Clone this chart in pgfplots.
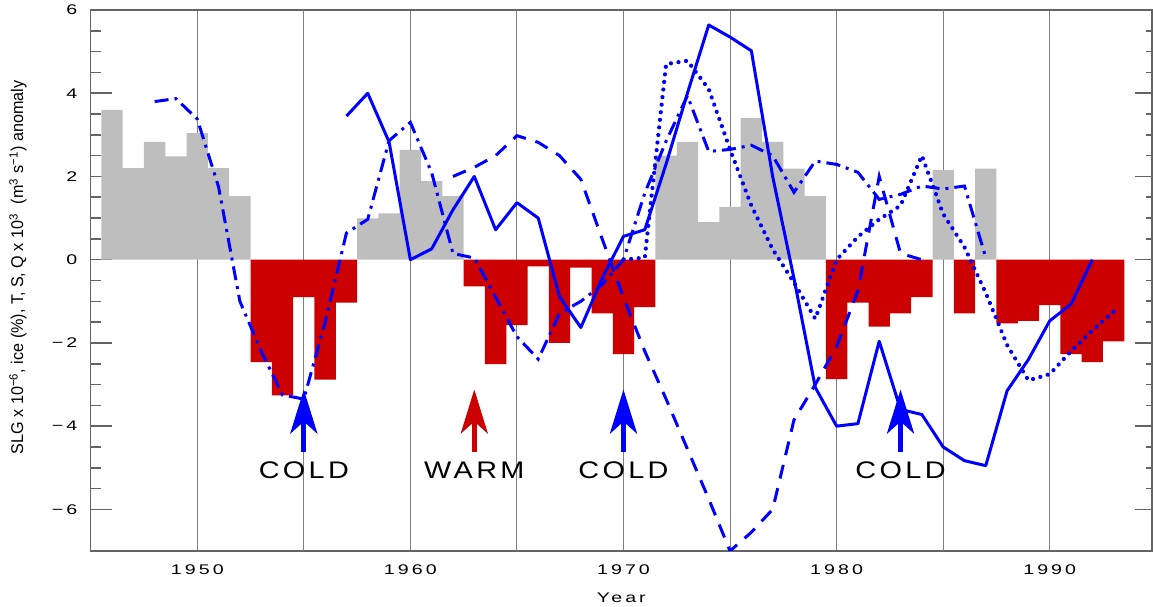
\documentclass[border=0pt]{standalone}
\usepackage{fontspec}
\setmainfont{Liberation Sans}
\newfontfamily\tickfont{Liberation Sans}[FakeStretch=1.4, LetterSpace=22]
\newfontfamily\labfont{Liberation Sans}[FakeStretch=0.95]
\newfontfamily\wfont{Liberation Sans}[FakeStretch=1.2, LetterSpace=14]
\usepackage{pgfplots}
\pgfplotsset{compat=1.18}
\usetikzlibrary{calc,arrows.meta}
\definecolor{barred}{RGB}{204,0,0}
\definecolor{bargray}{RGB}{190,190,190}
\definecolor{lblue}{RGB}{0,0,255}
\definecolor{framec}{RGB}{100,100,100}
\definecolor{gridc}{RGB}{128,128,128}
\pgfplotsset{common/.style={width=530.65pt, height=270.5pt, scale only axis,
  xmin=1945, xmax=1994.8, ymin=-7, ymax=6,
  axis line style={framec, line width=0.8pt},
  tick style={framec, line width=0.8pt}}}

\pgfplotstableread{
year val
1946 3.60
1947 2.20
1948 2.83
1949 2.48
1950 3.04
1951 2.20
1952 1.53
1958 0.99
1959 1.11
1960 2.64
1961 1.89
1962 1.53
1972 2.50
1973 2.83
1974 0.90
1975 1.27
1976 3.40
1977 2.83
1978 2.19
1979 1.53
1985 2.15
1987 2.19
}\posbars

\pgfplotstableread{
year val
1953 -2.46
1954 -3.26
1955 -0.90
1956 -2.88
1957 -1.03
1963 -0.64
1964 -2.51
1965 -1.57
1966 -0.16
1967 -2.00
1968 -0.19
1969 -1.29
1970 -2.27
1971 -1.14
1980 -2.87
1981 -1.03
1982 -1.61
1983 -1.29
1984 -0.90
1986 -1.29
1988 -1.53
1989 -1.47
1990 -1.09
1991 -2.27
1992 -2.46
1993 -1.96
}\negbars

\begin{document}
\begin{tikzpicture}
\begin{axis}[common, name=ax,
  xtick={1950,1960,1970,1980,1990},
  xticklabels={1950,1960,1970,1980,1990},
  xtick pos=left,
  xtick style={draw=none},
  xmajorgrids,
  extra x ticks={1955,1965,1975,1985},
  extra x tick labels={},
  extra x tick style={grid=major, tick style={draw=none}},
  major grid style={gridc, line width=0.5pt},
  ytick={-6,-4,-2,0,2,4,6},
  yticklabels={−6,−4,−2,0,2,4,6},
  minor y tick num=3,
  ytick pos=left,
  major tick length=10.5pt, minor tick length=5.3pt,
  xticklabel style={font=\tickfont\fontsize{7}{8}\selectfont, anchor=base, inner sep=0pt, yshift=-11.65pt},
  yticklabel style={font=\tickfont\fontsize{7}{8}\selectfont, anchor=east, inner sep=0pt, xshift=-6.5pt},
  xlabel={Year},
  xlabel style={font=\tickfont\fontsize{7}{8}\selectfont, at={(axis description cs:0.5,0)}, anchor=base, inner sep=0pt, yshift=-25.85pt},
  ylabel={SLG x 10\textsuperscript{−6}, ice (\%), T, S, Q x 10\textsuperscript{3}\ \ (m\textsuperscript{3} s\textsuperscript{−1}) anomaly},
  ylabel style={font=\labfont\fontsize{8.5}{10}\selectfont, at={(axis description cs:-0.0685,0.524)}, anchor=center, inner sep=0pt},
]
\addplot[ybar, bar width=1, bar shift=0pt, fill=bargray, draw=none] table[x=year, y=val] {\posbars};
\addplot[ybar, bar width=1, bar shift=0pt, fill=barred, draw=none] table[x=year, y=val] {\negbars};

% solid
\addplot[lblue, line width=1.5pt, line join=round] coordinates {
(1957,3.45) (1958,4.0) (1959,2.83) (1960,0.0) (1961,0.26) (1962,1.2) (1963,2.0)
(1964,0.72) (1965,1.37) (1966,1.0) (1967,-0.89) (1968,-1.63) (1969,-0.45)
(1970,0.56) (1971,0.72) (1972,2.3) (1973,4.0) (1974,5.64) (1975,5.35) (1976,5.02)
(1977,2.0) (1978,-0.45) (1979,-3.07) (1980,-4.0) (1981,-3.94) (1982,-1.96)
(1983,-3.6) (1984,-3.72) (1985,-4.5) (1986,-4.83) (1987,-4.95) (1988,-3.15)
(1989,-2.4) (1990,-1.47) (1991,-1.07) (1992,0.0)};

% dashed
\addplot[lblue, line width=1.5pt, dash pattern=on 7pt off 5pt] coordinates {
(1962,2.0) (1963,2.22) (1964,2.5) (1965,2.98) (1966,2.82) (1967,2.5) (1968,1.93)
(1969,0.5) (1970,-0.91) (1971,-2.2) (1972,-3.35) (1973,-4.55) (1974,-5.75)
(1975,-7.0) (1976,-6.55) (1977,-6.0) (1978,-3.85) (1979,-3.0) (1980,-2.09)
(1981,-0.75) (1982,2.0) (1983,0.15) (1984,0.0)};

% dash-dot
\addplot[lblue, line width=1.5pt, dash pattern=on 7pt off 3pt on 1.5pt off 3pt] coordinates {
(1948,3.8) (1949,3.87) (1950,3.38) (1951,1.75) (1952,-1.0) (1953,-2.2) (1954,-3.25)
(1955,-3.35) (1956,-1.5) (1957,0.64) (1958,0.97) (1959,2.86) (1960,3.3) (1961,2.09)
(1962,0.15) (1963,0.04) (1964,-0.9) (1965,-1.85) (1966,-2.39) (1967,-1.29)
(1968,-1.0) (1969,-0.6) (1970,0.0) (1971,1.6) (1972,2.85) (1973,3.94) (1974,2.6)
(1975,2.65) (1976,2.75) (1977,2.5) (1978,1.62) (1979,2.37) (1980,2.29) (1981,2.1)
(1982,1.45) (1983,1.57) (1984,1.77) (1985,1.7) (1986,1.77) (1987,0.05)};

% dotted
\addplot[lblue, line width=2.1pt, line cap=round, dash pattern=on 0.01pt off 3.8pt] coordinates {
(1970,0.0) (1971,0.05) (1972,4.7) (1973,4.78) (1974,4.1) (1975,2.65) (1976,1.3)
(1977,0.25) (1978,-0.55) (1979,-1.42) (1980,0.0) (1981,0.55) (1982,0.97) (1983,1.3)
(1984,2.5) (1985,1.1) (1986,0.3) (1987,-0.8) (1988,-2.05) (1989,-2.9) (1990,-2.75)
(1991,-2.2) (1992,-1.7) (1993,-1.25)};

% arrows and labels
\foreach \yr in {1955,1970,1983}{
  \edef\temp{\noexpand\draw[lblue, line width=2.6pt, -{Stealth[length=22pt,width=13.5pt,inset=6pt]}] (axis cs:\yr,-4.61) -- (axis cs:\yr,-3.12);}
  \temp
}
\draw[barred, line width=2.2pt, -{Stealth[length=22pt,width=13.5pt,inset=6pt]}] (axis cs:1963,-4.61) -- (axis cs:1963,-3.12);
\node[anchor=base, font=\wfont\fontsize{12}{14}\selectfont] at (axis cs:1955,-5.27) {COLD};
\node[anchor=base, font=\wfont\fontsize{12}{14}\selectfont] at (axis cs:1963,-5.27) {WARM};
\node[anchor=base, font=\wfont\fontsize{12}{14}\selectfont] at (axis cs:1970,-5.27) {COLD};
\node[anchor=base, font=\wfont\fontsize{12}{14}\selectfont] at (axis cs:1983,-5.27) {COLD};

\coordinate (SW) at (rel axis cs:0,0);
\coordinate (NE) at (rel axis cs:1,1);
\end{axis}
% x minor ticks (top and bottom)
\begin{axis}[common, axis line style={draw=none},
  xtick=\empty, ytick=\empty,
  minor xtick={1946,1947,...,1994},
  xtick pos=both, minor tick length=2.6pt]
\end{axis}
% right y ticks
\begin{axis}[common, axis line style={draw=none},
  xtick=\empty, ytick={-6,-4,-2,0,2,4,6}, yticklabels={},
  minor y tick num=3, ytick pos=right,
  major tick length=8.5pt, minor tick length=3pt]
\end{axis}
\pgfresetboundingbox
\path[use as bounding box] ($(SW)+(-45.35pt,-27.9pt)$) rectangle ($(NE)+(0.5pt,5pt)$);
\end{tikzpicture}
\end{document}
